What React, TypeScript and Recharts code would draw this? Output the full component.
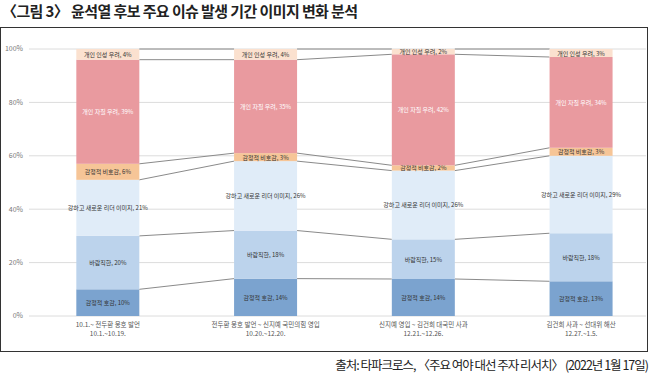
import React from "react";
import { BarChart, Bar, XAxis, YAxis, CartesianGrid } from "recharts";

// categories (two-line tick labels)
const periods = [
  "10.1.~ 전두환 옹호 발언",
  "전두환 옹호 발언 ~ 신지예 국민의힘 영입",
  "신지예 영입 ~ 김건희 대국민 사과",
  "김건희 사과 ~ 선대위 해산",
];
const dateRanges = ["10.1.~10.19.", "10.20.~12.20.", "12.21.~12.26.", "12.27.~1.5."];

// series, bottom to top
const seriesNames = [
  "감정적 호감",
  "바람직한",
  "강하고 새로운 리더 이미지",
  "감정적 비호감",
  "개인 자질 우려",
  "개인 인성 우려",
];
const emoPositive = [10, 14, 14, 13];
const desirable = [20, 18, 15, 18];
const strongLeader = [21, 26, 26, 29];
const emoNegative = [6, 3, 2, 3];
const abilityConcern = [39, 35, 42, 34];
const characterConcern = [4, 4, 2, 3];

const yTicks = [0, 20, 40, 60, 80, 100];

const seriesValues = [emoPositive, desirable, strongLeader, emoNegative, abilityConcern, characterConcern];
const seriesKeys = ["s0", "s1", "s2", "s3", "s4", "s5"];
const colors = ["#7ba3cf", "#bcd3ec", "#e0ecf8", "#f6c597", "#e99a9f", "#fbe1cf"];
const labelColors = ["#333", "#333", "#333", "#333", "#fff", "#333"];

const rows = periods.map((p, i) => {
  const row: Record<string, any> = { period: p, dates: dateRanges[i] };
  seriesKeys.forEach((k, s) => (row[k] = seriesValues[s][i]));
  return row;
});

const FONT = '"Noto Sans CJK KR", "Noto Sans", sans-serif';
const CHART_W = 660;
const CHART_H = 316;
const Y_AXIS_W = 29;
const BAND = (CHART_W - Y_AXIS_W) / periods.length;

const cumShare = (col: number, upTo: number) => {
  let total = 0;
  let part = 0;
  seriesValues.forEach((vals, s) => {
    total += vals[col];
    if (s <= upTo) part += vals[col];
  });
  return part / total;
};

// rect + label + series line to the next column's matching boundary
const renderSegment = (props: any, s: number) => {
  const { x, y, width, height, index, background, value } = props;
  let top: number;
  let plotH: number;
  if (background && background.height) {
    top = background.y;
    plotH = background.height;
  } else {
    const lo = Array.isArray(value) ? value[0] : 0;
    const hi = Array.isArray(value) ? value[1] : value;
    plotH = height / (hi - lo);
    top = y + height + lo * plotH - plotH;
  }
  const next = index + 1;
  return (
    <g>
      <rect x={x} y={y} width={width} height={height} fill={colors[s]} />
      {next < periods.length && (
        <line
          x1={x + width}
          y1={y}
          x2={x + BAND}
          y2={top + plotH * (1 - cumShare(next, s))}
          stroke="#8a8a8a"
          strokeWidth={1}
        />
      )}
      <text
        x={x + width / 2}
        y={y + height / 2}
        textAnchor="middle"
        dominantBaseline="central"
        fontSize={6}
        fill={labelColors[s]}
        fontFamily={FONT}
      >
        {`${seriesNames[s]}, ${seriesValues[s][index]}%`}
      </text>
    </g>
  );
};

const PeriodTick = (props: any) => {
  const { x, y, payload, index } = props;
  return (
    <g>
      <text x={x} y={y + 11} textAnchor="middle" fontSize={6.5} fill="#555" fontFamily={FONT}>
        {payload.value}
      </text>
      <text x={x} y={y + 20} textAnchor="middle" fontSize={6.5} fill="#555" fontFamily={FONT}>
        {dateRanges[index]}
      </text>
    </g>
  );
};

export default function App() {
  return (
    <div
      style={{
        position: "absolute",
        left: 0,
        top: 0,
        width: 650,
        height: 375,
        background: "#fff",
        fontFamily: FONT,
        overflow: "hidden",
      }}
    >
      <div
        style={{
          position: "absolute",
          left: 2,
          top: 1,
          fontSize: 15,
          fontWeight: 700,
          letterSpacing: -0.6,
          lineHeight: "20px",
          color: "#222",
          whiteSpace: "nowrap",
        }}
      >
        〈그림 3〉 윤석열 후보 주요 이슈 발생 기간 이미지 변화 분석
      </div>
      <div
        style={{
          position: "absolute",
          left: 0,
          top: 27,
          width: 646,
          height: 323,
          border: "1.5px solid #333",
        }}
      />
      <div style={{ position: "absolute", left: 0, top: 30, width: 646, height: CHART_H, overflow: "hidden" }}>
        <BarChart
          width={CHART_W}
          height={CHART_H}
          data={rows}
          stackOffset="expand"
          barCategoryGap="30%"
          margin={{ top: 19, right: 0, left: 0, bottom: 0 }}
        >
          <CartesianGrid vertical={false} stroke="#dcdcdc" />
          <XAxis
            dataKey="period"
            axisLine={false}
            tickLine={false}
            tickSize={0}
            tickMargin={0}
            interval={0}
            height={30}
            tick={<PeriodTick />}
          />
          <YAxis
            width={Y_AXIS_W}
            domain={[0, 1]}
            ticks={yTicks.map((t) => t / 100)}
            tickFormatter={(v: number) => `${Math.round(v * 100)}%`}
            axisLine={false}
            tickLine={false}
            tickSize={4}
            tick={{ fontSize: 7, fill: "#777", fontFamily: FONT }}
          />
          {seriesKeys.map((k, s) => (
            <Bar
              key={k}
              dataKey={k}
              stackId="a"
              isAnimationActive={false}
              shape={(p: any) => renderSegment(p, s)}
            />
          ))}
        </BarChart>
      </div>
      <div
        style={{
          position: "absolute",
          right: 2,
          top: 356,
          fontSize: 12.5,
          letterSpacing: -1,
          lineHeight: "18px",
          color: "#222",
          whiteSpace: "nowrap",
        }}
      >
        출처: 타파크로스, 〈주요 여야 대선 주자 리서치〉 (2022년 1월 17일)
      </div>
    </div>
  );
}
